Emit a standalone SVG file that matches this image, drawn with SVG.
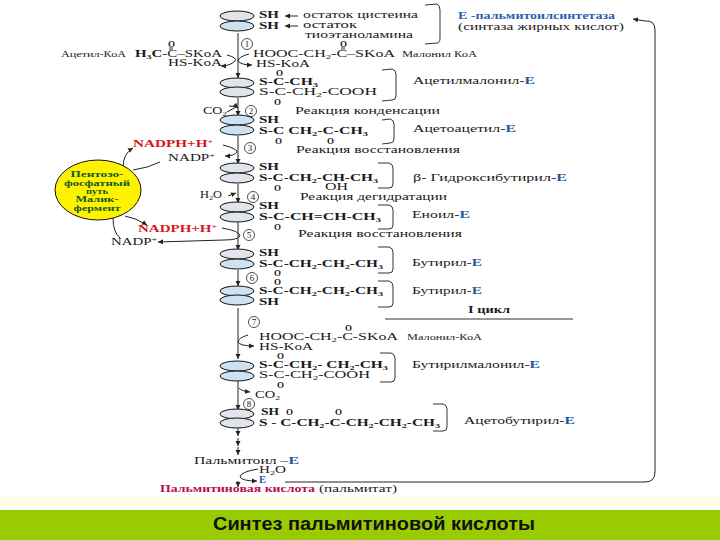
<svg xmlns="http://www.w3.org/2000/svg" width="720" height="540" viewBox="0 0 720 540">
<style>
text{font-family:"Liberation Serif","Times New Roman",serif;fill:#1a1a1a}
.f{font-size:10.500px;font-weight:bold}
.h{font-size:11px;font-weight:bold}
.l{font-size:10.500px}
.s{font-size:8px}
.o{font-size:9px;font-weight:bold}
.n{font-size:9px;text-anchor:middle}
.e{fill:#1f5a9c;font-weight:bold}
.sub{font-size:7px;baseline-shift:-2px}
.sup{font-size:7px;baseline-shift:3px}
.red{fill:#d8141c;font-weight:bold;font-size:11px}
.g{fill:#0f5a2a;font-weight:bold;font-size:8px;text-anchor:middle}
ellipse.a{fill:#dfe5ea;stroke:#111;stroke-width:1}
ellipse.b{fill:#cfe2f1;stroke:#111;stroke-width:1}
.c{fill:none;stroke:#222;stroke-width:1}
.m{marker-end:url(#ah)}
.k{fill:none;stroke:#333;stroke-width:1}
circle.r{fill:#fff;stroke:#222;stroke-width:.8}
</style>
<defs>
<marker id="ah" markerWidth="6" markerHeight="6" refX="5" refY="3" orient="auto" markerUnits="userSpaceOnUse"><path d="M0 .5L5 3L0 5.500z" fill="#222"/></marker>
</defs>
<rect width="720" height="540" fill="#fff"/>
<rect x="0" y="497" width="720" height="9" fill="#fffde8"/>
<rect x="0" y="510" width="720" height="30" fill="#99cc00"/>

<g id="connectors">
<path class="c m" d="M238 33V78"/><path class="c m" d="M238 98V116"/><path class="c m" d="M238 136V164"/><path class="c m" d="M238 184V203"/><path class="c m" d="M238 222V250"/><path class="c m" d="M238 270V286"/><path class="c m" d="M238 308V359"/><path class="c m" d="M238 381V410"/><path class="c m" d="M238 428V436"/><path class="c m" d="M238 438V446"/><path class="c m" d="M238 447V455"/>
<path class="c m" d="M227 55Q238 58 235 61Q230 66 221 66"/>
<path class="c m" d="M249 54Q238 57 238 61Q241 65 252 65"/>
<path class="c m" d="M229 106Q236 106 238 108"/>
<path class="c" d="M227 112L236 107"/>
<path class="c m" d="M223 145Q238 149 237 152Q234 156 225 156"/>
<path class="c m" d="M228 196L236 193"/>
<path class="c m" d="M222 228Q240 231 240 236Q238 240 224 240L158 242"/>
<path class="c m" d="M248 335Q238 338 238 342Q240 346 254 346"/>
<path class="c m" d="M239 388Q241 391 250 392"/>
<path class="c m" d="M258 469Q240 472 240 477Q242 481 257 481"/>
<path class="c m" d="M238 481V487"/>
<path class="c m" d="M123 167Q123 154 133 148"/>
<path class="c" d="M133 170Q148 168 160 162"/>
<path class="c m" d="M125 216Q136 218 147 225"/>
<path class="c" d="M113 218Q113 232 120 238"/>
<path class="c m" d="M285 482H645Q655 482 655 472V30Q655 20 645 21L633 19"/>
<path class="c m" d="M298 16H285"/><path class="c m" d="M298 26H285"/>
<path class="k" d="M385 319H573"/>
</g>

<g id="brackets">
<path class="k" d="M425 5L437 4Q440 5 440 10V38Q440 43 437 43L425 44"/>
<path class="k" d="M382 70L392 69Q396 70 396 74V96Q396 100 392 100L382 101"/>
<path class="k" d="M382 120L390 119Q394 120 394 124V139Q394 143 390 143L382 144"/>
<path class="k" d="M378 163L389 163Q393 164 393 168V184Q393 188 389 188H378"/>
<path class="k" d="M378 205H389Q393 206 393 210V225Q393 229 389 229H378"/>
<path class="k" d="M378 247H389Q393 248 393 252V269Q393 273 389 273H378"/>
<path class="k" d="M378 281H389Q393 282 393 286V303Q393 307 389 307H378"/>
<path class="k" d="M380 353H391Q395 354 395 358V378Q395 382 391 382H380"/>
<path class="k" d="M433 404H443Q447 405 447 409V427Q447 431 443 431H433"/>
</g>

<g id="enzyme-top">
<ellipse class="a" cx="237" cy="16" rx="17" ry="5"/><ellipse class="b" cx="237" cy="26" rx="17" ry="5"/>
<text class="h" x="259" y="18" textLength="20" lengthAdjust="spacingAndGlyphs">SH</text><text class="h" x="259" y="29" textLength="20" lengthAdjust="spacingAndGlyphs">SH</text>
<text class="l" x="303" y="18" textLength="115" lengthAdjust="spacingAndGlyphs">остаток цистеина</text>
<text class="l" x="303" y="28" textLength="54" lengthAdjust="spacingAndGlyphs">остаток</text>
<text class="l" x="305" y="38" textLength="108" lengthAdjust="spacingAndGlyphs">тиоэтаноламина</text>
<text x="458" y="19" font-size="10.500" font-weight="bold" style="fill:#2a5fae" textLength="157" lengthAdjust="spacingAndGlyphs">Е -пальмитоилсинтетаза</text>
<text class="l" x="458" y="30" textLength="166" lengthAdjust="spacingAndGlyphs">(синтаза жирных кислот)</text>
</g>

<g id="step-1">
<circle class="r" cx="247" cy="44" r="5.500"/><text class="n" x="247" y="47">1</text>
<text class="s" x="61" y="57" textLength="65" lengthAdjust="spacingAndGlyphs">Ацетил-КоА</text>
<text class="l" x="135" y="57" textLength="87" lengthAdjust="spacingAndGlyphs"><tspan font-weight="bold">H<tspan class="sub">3</tspan>C</tspan>-C–SKoA</text>
<text class="o" x="168" y="47">O</text><path class="k" d="M170 47V50M172 47V50"/>
<text class="l" x="168" y="66" textLength="54" lengthAdjust="spacingAndGlyphs">HS-KoA</text>
<text class="l" x="253" y="57" textLength="142" lengthAdjust="spacingAndGlyphs">HOOC-CH<tspan class="sub">2</tspan>-C–SKoA</text>
<text class="o" x="340" y="47">O</text><path class="k" d="M342 47V50M344 47V50"/>
<text class="s" x="402" y="57" textLength="75" lengthAdjust="spacingAndGlyphs">Малонил КоА</text>
<text class="l" x="256" y="67" textLength="54" lengthAdjust="spacingAndGlyphs">HS-KoA</text>
</g>

<g id="acetylmalonyl">
<ellipse class="a" cx="237" cy="83" rx="17" ry="5"/><ellipse class="a" cx="237" cy="92" rx="17" ry="5"/>
<text class="o" x="276" y="76">O</text>
<text class="f" x="259" y="85" textLength="59" lengthAdjust="spacingAndGlyphs">S-C-CH<tspan class="sub">3</tspan></text>
<text class="l" x="259" y="95" textLength="118" lengthAdjust="spacingAndGlyphs">S-C-CH<tspan class="sub">2</tspan>-COOH</text>
<text class="o" x="274" y="105">O</text>
<text class="l" x="413" y="84" textLength="122" lengthAdjust="spacingAndGlyphs">Ацетилмалонил-<tspan class="e">Е</tspan></text>
</g>

<g id="step-2">
<text class="l" x="203" y="114" textLength="24" lengthAdjust="spacingAndGlyphs">CO<tspan class="sub">2</tspan></text>
<circle class="r" cx="251" cy="111" r="5.500"/><text class="n" x="251" y="114">2</text>
<text class="l" x="295" y="114" textLength="145" lengthAdjust="spacingAndGlyphs">Реакция конденсации</text>
</g>

<g id="acetoacetyl">
<ellipse class="b" cx="237" cy="120" rx="17" ry="5"/><ellipse class="b" cx="237" cy="130" rx="17" ry="5"/>
<text class="h" x="259" y="123" textLength="20" lengthAdjust="spacingAndGlyphs">SH</text>
<text class="f" x="259" y="134" textLength="109" lengthAdjust="spacingAndGlyphs">S-C  CH<tspan class="sub">2</tspan>-C-CH<tspan class="sub">3</tspan></text>
<text class="o" x="275" y="144">O</text><text class="o" x="327" y="144">O</text>
<text class="l" x="413" y="132" textLength="103" lengthAdjust="spacingAndGlyphs">Ацетоацетил-<tspan class="e">Е</tspan></text>
</g>

<g id="step-3">
<circle class="r" cx="250" cy="148" r="5.500"/><text class="n" x="250" y="151">3</text>
<text class="l" x="296" y="153" textLength="164" lengthAdjust="spacingAndGlyphs">Реакция восстановления</text>
<text class="red" x="133" y="147" textLength="80" lengthAdjust="spacingAndGlyphs">NADPH+H<tspan class="sup">+</tspan></text>
<text class="l" x="168" y="161" textLength="47" lengthAdjust="spacingAndGlyphs">NADP<tspan class="sup">+</tspan></text>
</g>

<g id="hydroxybutyryl">
<ellipse class="a" cx="237" cy="168" rx="17" ry="5"/><ellipse class="a" cx="237" cy="178" rx="17" ry="5"/>
<text class="h" x="259" y="170" textLength="20" lengthAdjust="spacingAndGlyphs">SH</text>
<text class="f" x="259" y="181" textLength="119" lengthAdjust="spacingAndGlyphs">S-C-CH<tspan class="sub">2</tspan>-CH-CH<tspan class="sub">3</tspan></text>
<text class="o" x="274" y="191">O</text>
<text class="l" x="325" y="190" textLength="23" lengthAdjust="spacingAndGlyphs">OH</text>
<text class="l" x="413" y="181" textLength="154" lengthAdjust="spacingAndGlyphs">β- Гидроксибутирил-<tspan class="e">Е</tspan></text>
</g>

<g id="step-4">
<text class="l" x="200" y="198" textLength="22" lengthAdjust="spacingAndGlyphs">H<tspan class="sub">2</tspan>O</text>
<circle class="r" cx="253" cy="197" r="5.500"/><text class="n" x="253" y="200">4</text>
<text class="l" x="300" y="200" textLength="147" lengthAdjust="spacingAndGlyphs">Реакция дегидратации</text>
</g>

<g id="enoyl">
<ellipse class="a" cx="237" cy="207" rx="17" ry="5"/><ellipse class="a" cx="237" cy="217" rx="17" ry="5"/>
<text class="h" x="259" y="209" textLength="20" lengthAdjust="spacingAndGlyphs">SH</text>
<text class="f" x="259" y="220" textLength="122" lengthAdjust="spacingAndGlyphs">S-C-CH=CH-CH<tspan class="sub">3</tspan></text>
<text class="o" x="274" y="230">O</text>
<text class="l" x="412" y="218" textLength="58" lengthAdjust="spacingAndGlyphs">Еноил-<tspan class="e">Е</tspan></text>
</g>

<g id="step-5">
<circle class="r" cx="249" cy="235" r="5.500"/><text class="n" x="249" y="238">5</text>
<text class="l" x="298" y="237" textLength="164" lengthAdjust="spacingAndGlyphs">Реакция восстановления</text>
<text class="red" x="138" y="232" textLength="79" lengthAdjust="spacingAndGlyphs">NADPH+H<tspan class="sup">+</tspan></text>
<text class="l" x="111" y="245" textLength="46" lengthAdjust="spacingAndGlyphs">NADP<tspan class="sup">+</tspan></text>
</g>

<g id="butyryl-1">
<ellipse class="a" cx="237" cy="254" rx="17" ry="5"/><ellipse class="b" cx="237" cy="264" rx="17" ry="5"/>
<text class="h" x="259" y="256" textLength="20" lengthAdjust="spacingAndGlyphs">SH</text>
<text class="f" x="259" y="267" textLength="124" lengthAdjust="spacingAndGlyphs">S-C-CH<tspan class="sub">2</tspan>-CH<tspan class="sub">2</tspan>-CH<tspan class="sub">3</tspan></text>
<text class="o" x="274" y="276">O</text>
<text class="l" x="412" y="266" textLength="70" lengthAdjust="spacingAndGlyphs">Бутирил-<tspan class="e">Е</tspan></text>
</g>

<g id="step-6">
<circle class="r" cx="252" cy="278" r="5.500"/><text class="n" x="252" y="281">6</text>
</g>

<g id="butyryl-2">
<ellipse class="b" cx="237" cy="291" rx="17" ry="5"/><ellipse class="b" cx="237" cy="300" rx="17" ry="5"/>
<text class="o" x="274" y="285">O</text>
<text class="f" x="259" y="294" textLength="124" lengthAdjust="spacingAndGlyphs">S-C-CH<tspan class="sub">2</tspan>-CH<tspan class="sub">2</tspan>-CH<tspan class="sub">3</tspan></text>
<text class="h" x="259" y="305" textLength="20" lengthAdjust="spacingAndGlyphs">SH</text>
<text class="l" x="412" y="294" textLength="70" lengthAdjust="spacingAndGlyphs">Бутирил-<tspan class="e">Е</tspan></text>
<text class="l" x="468" y="313" textLength="42" lengthAdjust="spacingAndGlyphs" font-weight="bold">I цикл</text>
</g>

<g id="step-7">
<circle class="r" cx="254" cy="322" r="5.500"/><text class="n" x="254" y="325">7</text>
<text class="o" x="345" y="331">O</text>
<text class="l" x="259" y="340" textLength="139" lengthAdjust="spacingAndGlyphs">HOOC-CH<tspan class="sub">2</tspan>-C-SKoA</text>
<text class="l" x="259" y="350" textLength="54" lengthAdjust="spacingAndGlyphs">HS-KoA</text>
<text class="s" x="407" y="340" textLength="75" lengthAdjust="spacingAndGlyphs">Малонил-КоА</text>
</g>

<g id="butyrylmalonyl">
<ellipse class="b" cx="237" cy="366" rx="17" ry="5"/><ellipse class="b" cx="237" cy="376" rx="17" ry="5"/>
<text class="o" x="277" y="359">O</text>
<text class="f" x="259" y="368" textLength="129" lengthAdjust="spacingAndGlyphs">S-C-CH<tspan class="sub">2</tspan>- CH<tspan class="sub">2</tspan>-CH<tspan class="sub">3</tspan></text>
<text class="l" x="259" y="378" textLength="111" lengthAdjust="spacingAndGlyphs">S-C-CH<tspan class="sub">2</tspan>-COOH</text>
<text class="o" x="277" y="388">O</text>
<text class="l" x="412" y="368" textLength="128" lengthAdjust="spacingAndGlyphs">Бутирилмалонил-<tspan class="e">Е</tspan></text>
</g>

<g id="step-8">
<text class="l" x="255" y="398" textLength="25" lengthAdjust="spacingAndGlyphs">CO<tspan class="sub">2</tspan></text>
<circle class="r" cx="249" cy="404" r="5.500"/><text class="n" x="249" y="407">8</text>
</g>

<g id="acetobutyryl">
<ellipse class="a" cx="237" cy="414" rx="17" ry="5"/><ellipse class="a" cx="237" cy="423" rx="17" ry="5"/>
<text class="h" x="261" y="415" textLength="18" lengthAdjust="spacingAndGlyphs">SH</text>
<text class="o" x="286" y="415">O</text><text class="o" x="335" y="415">O</text>
<text class="f" x="259" y="426" textLength="181" lengthAdjust="spacingAndGlyphs">S - C-CH<tspan class="sub">2</tspan>-C-CH<tspan class="sub">2</tspan>-CH<tspan class="sub">2</tspan>-CH<tspan class="sub">3</tspan></text>
<text class="l" x="464" y="424" textLength="111" lengthAdjust="spacingAndGlyphs">Ацетобутирил-<tspan class="e">Е</tspan></text>
</g>

<g id="product">
<text class="l" x="194" y="464" textLength="105" lengthAdjust="spacingAndGlyphs">Пальмитоил –<tspan class="e">Е</tspan></text>
<text class="l" x="259" y="473" textLength="27" lengthAdjust="spacingAndGlyphs">H<tspan class="sub">2</tspan>O</text>
<text class="l e" style="fill:#1f5a9c" x="259" y="483">Е</text>
<text x="160" y="492" font-size="10.500" font-weight="bold" style="fill:#b80f4a" textLength="155" lengthAdjust="spacingAndGlyphs">Пальмитиновая кислота</text>
<text class="l" x="319" y="492" textLength="78" lengthAdjust="spacingAndGlyphs">(пальмитат)</text>
</g>

<g id="pentose">
<ellipse cx="98" cy="190" rx="43" ry="30" fill="#fff200" stroke="#111" stroke-width="1"/>
<text class="g" x="97" y="177" textLength="53" lengthAdjust="spacingAndGlyphs">Пентозо-</text>
<text class="g" x="97" y="186" textLength="66" lengthAdjust="spacingAndGlyphs">фосфатный</text>
<text class="g" x="97" y="194" textLength="22" lengthAdjust="spacingAndGlyphs">путь</text>
<text class="g" x="97" y="202" textLength="43" lengthAdjust="spacingAndGlyphs">Малик-</text>
<text class="g" x="97" y="211" textLength="47" lengthAdjust="spacingAndGlyphs">фермент</text>
</g>

<g id="title">
<text x="374" y="530" text-anchor="middle" style="font-family:'Liberation Sans',Arial,sans-serif;font-size:18px;font-weight:bold;fill:#111" textLength="322" lengthAdjust="spacingAndGlyphs">Синтез пальмитиновой кислоты</text>
</g>
</svg>
